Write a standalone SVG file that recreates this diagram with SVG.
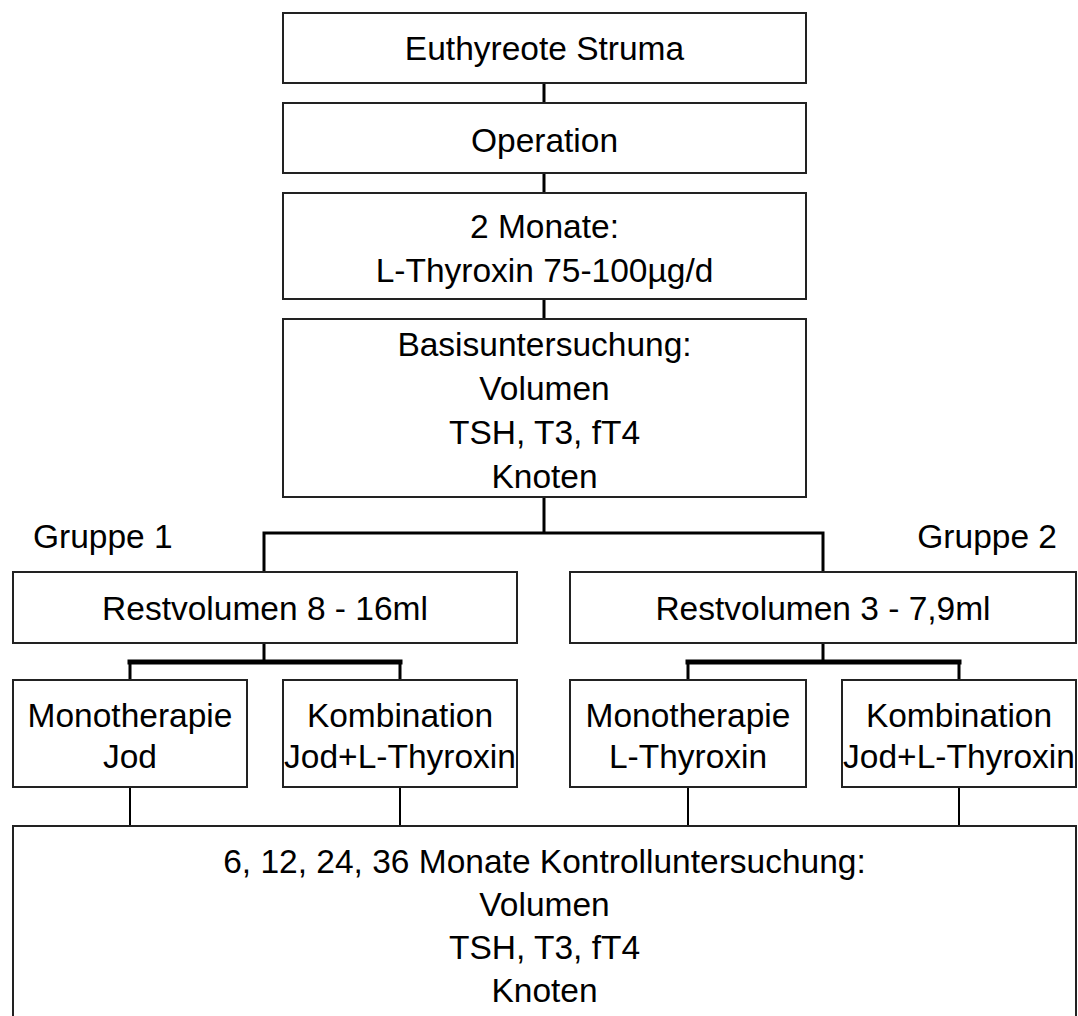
<svg xmlns="http://www.w3.org/2000/svg" width="1078" height="1016" viewBox="0 0 1078 1016">
<style>
.box{fill:#fff;stroke:#222;stroke-width:2}
text{font-family:"Liberation Sans",Arial,sans-serif;font-size:33.5px;fill:#000;text-anchor:middle}
.l{text-anchor:start}
.e{text-anchor:end}
.c{stroke:#000;fill:none;stroke-linecap:square}
</style>
<rect width="1078" height="1016" fill="#fff"/>
<g id="connectors">
<path class="c" stroke-width="3" d="M544 83V103M544 173V193M544 299V319M544 497V533M264 533H823M264 533V572M823 533V572"/>
<path class="c" stroke-width="3" d="M264 643V662M130 662V680M400 662V680M823 643V662M688 662V680M959 662V680"/>
<path class="c" stroke-width="5" d="M130 662H400M688 662H959"/>
<path class="c" stroke-width="2" d="M130 787V826M400 787V826M688 787V826M959 787V826"/>
</g>
<g id="n1"><rect class="box" x="283" y="13" width="523" height="70"/><text x="544.5" y="60">Euthyreote Struma</text></g>
<g id="n2"><rect class="box" x="283" y="103" width="523" height="70"/><text x="544.5" y="152">Operation</text></g>
<g id="n3"><rect class="box" x="283" y="193" width="523" height="106"/><text x="544.5" y="238">2 Monate:</text><text x="544.5" y="282">L-Thyroxin 75-100µg/d</text></g>
<g id="n4"><rect class="box" x="283" y="319" width="523" height="178"/><text x="544.5" y="356">Basisuntersuchung:</text><text x="544.5" y="400">Volumen</text><text x="544.5" y="444">TSH, T3, fT4</text><text x="544.5" y="488">Knoten</text></g>
<g id="g1"><text class="l" x="33" y="548">Gruppe 1</text></g>
<g id="g2"><text class="e" x="1057" y="548">Gruppe 2</text></g>
<g id="r1"><rect class="box" x="13" y="572" width="504" height="71"/><text x="265" y="620">Restvolumen 8 - 16ml</text></g>
<g id="r2"><rect class="box" x="570" y="572" width="506" height="71"/><text x="823" y="620">Restvolumen 3 - 7,9ml</text></g>
<g id="s1"><rect class="box" x="13" y="680" width="234" height="107"/><text x="130" y="727">Monotherapie</text><text x="130" y="768">Jod</text></g>
<g id="s2"><rect class="box" x="283" y="680" width="234" height="107"/><text x="400" y="727">Kombination</text><text x="400" y="768">Jod+L-Thyroxin</text></g>
<g id="s3"><rect class="box" x="570" y="680" width="236" height="107"/><text x="688" y="727">Monotherapie</text><text x="688" y="768">L-Thyroxin</text></g>
<g id="s4"><rect class="box" x="842" y="680" width="234" height="107"/><text x="959" y="727">Kombination</text><text x="959" y="768">Jod+L-Thyroxin</text></g>
<g id="n5"><rect class="box" x="13" y="826" width="1063" height="220"/><text x="544.5" y="873">6, 12, 24, 36 Monate Kontrolluntersuchung:</text><text x="544.5" y="916">Volumen</text><text x="544.5" y="959">TSH, T3, fT4</text><text x="544.5" y="1002">Knoten</text></g>
</svg>
